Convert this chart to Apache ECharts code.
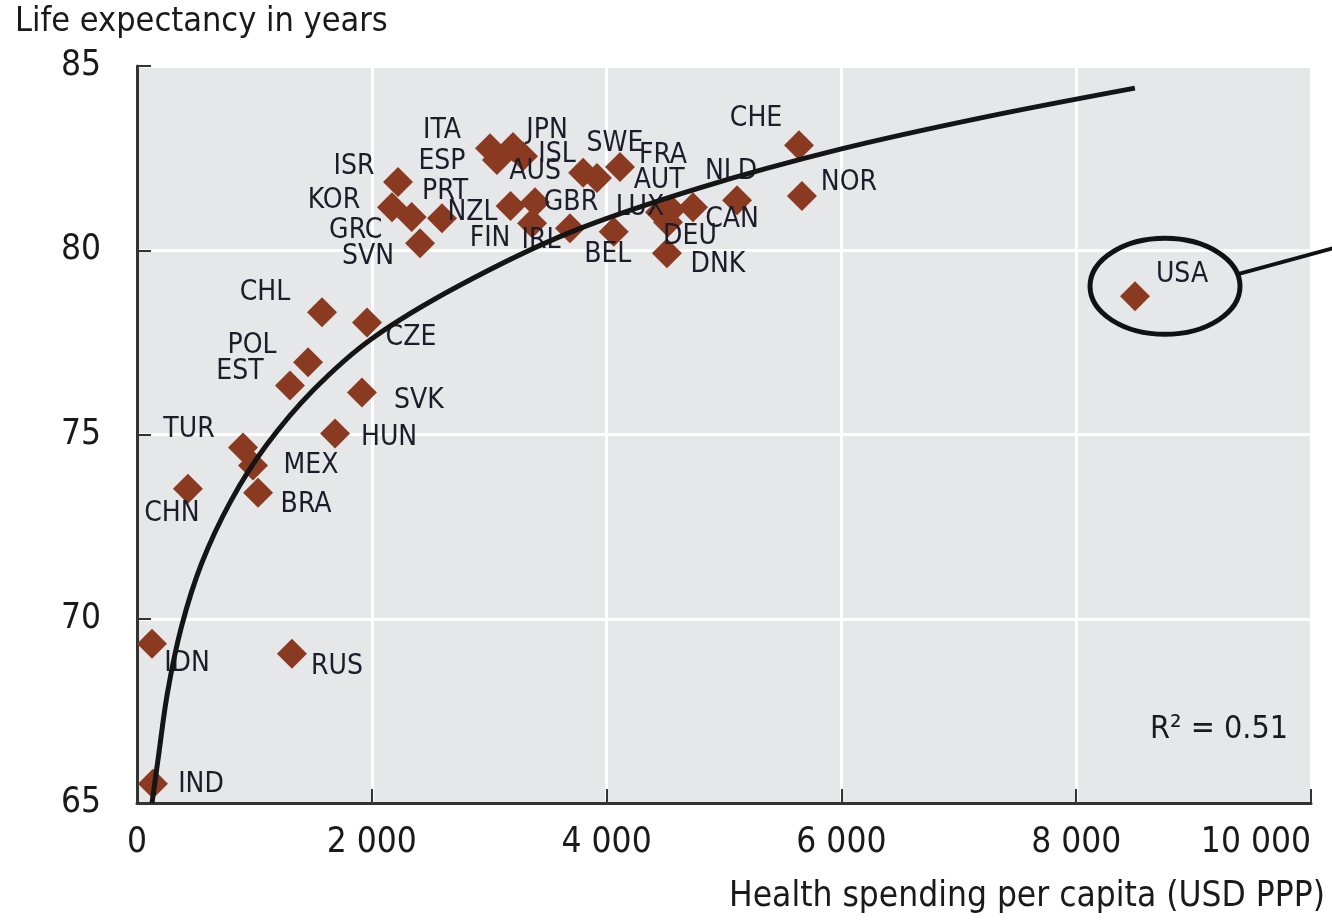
<!DOCTYPE html>
<html>
<head>
<meta charset="utf-8">
<style>
  html, body { margin: 0; padding: 0; background: #fff; }
  #chart { width: 1332px; height: 922px; }
</style>
<script src="https://cdn.jsdelivr.net/npm/echarts@6/dist/echarts.min.js"></script>
</head>
<body>
<div id="chart"></div>
<script>
// country data
const countries = ['ITA', 'ESP', 'JPN', 'ISL', 'AUS', 'SWE', 'FRA', 'ISR', 'KOR', 'GRC', 'PRT', 'SVN',
  'NZL', 'GBR', 'FIN', 'IRL', 'BEL', 'LUX', 'AUT', 'DEU', 'CAN', 'NLD', 'DNK', 'CHE', 'NOR', 'USA',
  'CHL', 'CZE', 'POL', 'EST', 'SVK', 'HUN', 'TUR', 'MEX', 'BRA', 'CHN', 'IDN', 'RUS', 'IND'];
const spending = [3007, 3066, 3203, 3288, 3800, 3918, 4114, 2223, 2172, 2340, 2598, 2411,
  3182, 3390, 3365, 3688, 4061, 4455, 4550, 4523, 4736, 5111, 4514, 5639, 5664, 8501,
  1576, 1959, 1457, 1303, 1916, 1687, 903, 988, 1031, 434, 128, 1320, 136];
const lifeExp = [82.77, 82.45, 82.8, 82.55, 82.1, 81.96, 82.26, 81.85, 81.17, 80.9, 80.87, 80.19,
  81.2, 81.3, 80.73, 80.6, 80.5, 81.03, 81.1, 80.76, 81.17, 81.36, 79.92, 82.85, 81.47, 78.75,
  78.32, 78.04, 76.96, 76.33, 76.14, 75.03, 74.65, 74.16, 73.42, 73.53, 69.32, 69.05, 65.52];

// fitted curve
const trendSpending = [128, 180, 260, 380, 550, 800, 1100, 1500, 2000, 2750, 3700, 4800, 6000, 7200, 8500];
const trendLifeExp = [65.0, 66.2, 68.0, 69.8, 71.5, 73.2, 74.7, 76.2, 77.6, 79.05, 80.5, 81.7, 82.75, 83.6, 84.4];

const rSquared = 'R² = 0.51';

// where each label sits relative to its marker (pixels)
const labelOffsets = {
  ITA: [-48, -17], JPN: [34, -16], SWE: [18, -34], FRA: [43, -11], ISR: [-44, -15], ESP: [-55, 2],
  ISL: [34, -2], AUS: [-48, -1], NLD: [-6, -28], CHE: [-43, -27], NOR: [47, -13], KOR: [-58, -6],
  PRT: [3, -26], NZL: [-38, 7], GBR: [36, 0], AUT: [-12, -29], LUX: [-20, -5], CAN: [39, 13],
  GRC: [-56, 14], FIN: [-42, 15], IRL: [-29, 13], DEU: [22, 14], BEL: [-6, 23], SVN: [-52, 13],
  DNK: [51, 12], CHL: [-57, -19], CZE: [44, 15], POL: [-56, -17], EST: [-50, -14], SVK: [57, 8],
  TUR: [-54, -18], HUN: [54, 4], MEX: [58, 0], BRA: [48, 12], CHN: [-16, 25], IDN: [35, 20],
  RUS: [45, 13], IND: [48, 1], USA: [47, -22]
};

const font = "'DejaVu Sans Condensed', 'Liberation Sans', sans-serif";
const axisColor = '#333';
const textColor = '#1a1a1a';

const chart = echarts.init(document.getElementById('chart'));

const points = countries.map((c, i) => ({
  name: c,
  value: [spending[i], lifeExp[i]],
  label: { offset: labelOffsets[c] || [40, 0] }
}));
const trend = trendSpending.map((x, i) => [x, trendLifeExp[i]]);

chart.setOption({
  animation: false,
  grid: {
    left: 137, right: 21, top: 66, bottom: 119,
    outerBoundsMode: 'none',
    show: true, backgroundColor: '#e6e7e9', borderWidth: 0
  },
  xAxis: {
    type: 'value', min: 0, max: 10000, interval: 2000,
    axisLine: { show: true, lineStyle: { color: axisColor, width: 3 } },
    axisTick: { show: true, inside: true, length: 14, lineStyle: { color: axisColor, width: 2 } },
    splitLine: { show: true, lineStyle: { color: '#fff', width: 3 } },
    axisLabel: {
      margin: 22, fontSize: 35, color: textColor, fontFamily: font,
      alignMaxLabel: 'right',
      formatter: v => v >= 1000 ? Math.floor(v / 1000) + ' 000' : String(v)
    }
  },
  yAxis: {
    type: 'value', min: 65, max: 85, interval: 5,
    axisLine: { show: true, lineStyle: { color: axisColor, width: 3 } },
    axisTick: { show: true, inside: true, length: 14, lineStyle: { color: axisColor, width: 2 } },
    splitLine: { show: true, lineStyle: { color: '#fff', width: 3 } },
    axisLabel: { margin: 36, fontSize: 35, color: textColor, fontFamily: font }
  },
  series: [
    {
      type: 'scatter',
      z: 2,
      symbol: 'diamond',
      symbolSize: 30,
      itemStyle: { color: '#8b3a22', opacity: 1 },
      label: {
        show: true, position: 'inside', formatter: '{b}',
        color: '#1c1c2a', fontSize: 28, fontFamily: font,
        align: 'center', verticalAlign: 'middle'
      },
      data: points
    },
    {
      type: 'line',
      z: 3,
      smooth: 0.35,
      symbol: 'none',
      lineStyle: { color: '#151515', width: 5 },
      data: trend
    }
  ]
});

// annotation texts, plus the ring round the USA marker
const iUsa = countries.indexOf('USA');
const usa = chart.convertToPixel({ gridIndex: 0 }, [spending[iUsa], lifeExp[iUsa]]);
const cx = usa[0] + 30, cy = usa[1] - 10;

chart.setOption({
  graphic: [
    {
      type: 'text', left: 15, top: 5,
      style: { text: 'Life expectancy in years', fontSize: 34, fontFamily: font, fill: textColor }
    },
    {
      type: 'text', right: 7, top: 879,
      style: { text: 'Health spending per capita (USD PPP)', fontSize: 35, fontFamily: font, fill: textColor }
    },
    {
      type: 'text', right: 44, top: 714,
      style: { text: rSquared, fontSize: 32, fontFamily: font, fill: textColor }
    },
    {
      type: 'ellipse', z: 10,
      shape: { cx: cx, cy: cy, rx: 75, ry: 48 },
      style: { fill: 'none', stroke: '#111', lineWidth: 5 }
    },
    {
      type: 'line', z: 10,
      shape: { x1: cx + 72, y1: cy - 12, x2: 1340, y2: cy - 40 },
      style: { stroke: '#111', lineWidth: 4 }
    }
  ]
});
</script>
</body>
</html>
